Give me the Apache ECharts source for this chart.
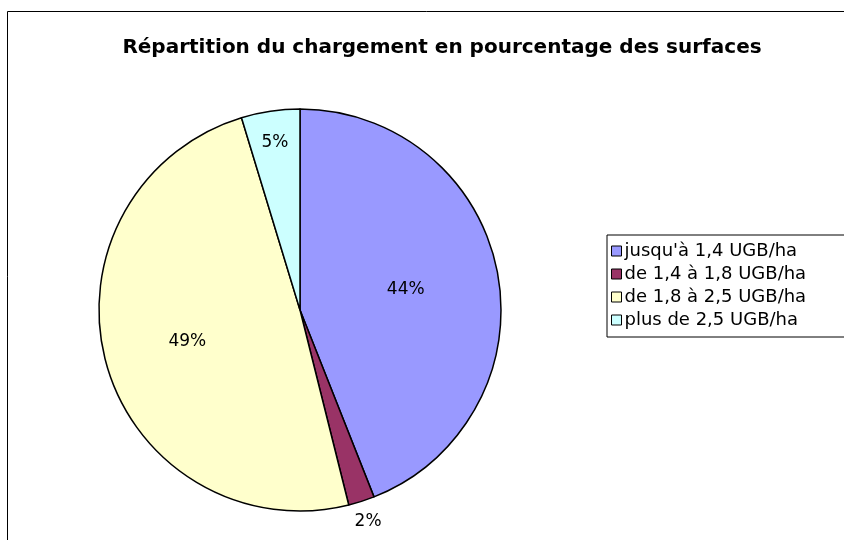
<!DOCTYPE html>
<html>
<head>
<meta charset="utf-8">
<script src="https://cdn.jsdelivr.net/npm/echarts@6/dist/echarts.min.js"></script>
<style>
  html, body { margin: 0; padding: 0; background: #fff; }
  #main { width: 844px; height: 540px; }
</style>
</head>
<body>
<div id="main"></div>
<script>
var chartDom = document.getElementById("main");
var myChart = echarts.init(chartDom, null, { renderer: 'canvas' });

// données
var categories = ["jusqu'à 1,4 UGB/ha", "de 1,4 à 1,8 UGB/ha", "de 1,8 à 2,5 UGB/ha", "plus de 2,5 UGB/ha"];
var shares = [44.0, 2.1, 49.2, 4.7];
var colors = ['#9999FF', '#993366', '#FFFFCC', '#CCFFFF'];
// position radiale des étiquettes (rapport à la position "inside")
var labelRadius = [1.04, 2.15, 1.13, 1.64];

var cx = 300, cy = 310;
var fontFam = 'DejaVu Sans, Arial, sans-serif';

var pieData = categories.map(function (name, i) {
    return { name: name, value: shares[i], itemStyle: { color: colors[i] } };
});

var option = {
    animation: false,
    title: {
        text: 'Répartition du chargement en pourcentage des surfaces',
        left: 437,
        top: 33,
        textAlign: 'center',
        textStyle: {
            fontFamily: fontFam,
            fontSize: 20,
            fontWeight: 'bold',
            color: '#000'
        }
    },
    graphic: [{
        type: 'rect',
        shape: { x: 7.5, y: 11.5, width: 900, height: 600 },
        style: { fill: 'none', stroke: '#000', lineWidth: 1 },
        silent: true
    }],
    legend: {
        orient: 'vertical',
        left: 607,
        top: 235,
        padding: [7, 80, 8, 4],
        borderColor: '#000',
        borderWidth: 1,
        itemWidth: 10,
        itemHeight: 10,
        itemGap: 5,
        icon: 'rect',
        itemStyle: { borderColor: '#000', borderWidth: 1 },
        textStyle: {
            fontFamily: fontFam,
            fontSize: 18,
            lineHeight: 18,
            color: '#000',
            padding: [0, 0, 0, -2]
        },
        data: categories
    },
    series: [{
        type: 'pie',
        center: [cx, cy],
        radius: 201,
        startAngle: 90,
        clockwise: true,
        data: pieData,
        itemStyle: { borderColor: '#000', borderWidth: 1.5 },
        label: {
            show: true,
            position: 'inside',
            formatter: function (p) { return Math.round(p.value) + '%'; },
            fontFamily: fontFam,
            fontSize: 17,
            color: '#000'
        },
        labelLine: { show: false },
        emphasis: { disabled: true },
        labelLayout: function (params) {
            var r = params.labelRect;
            var lx = r.x + r.width / 2, ly = r.y + r.height / 2;
            var f = labelRadius[params.dataIndex] - 1;
            return { dx: (lx - cx) * f, dy: (ly - cy) * f };
        }
    }]
};

myChart.setOption(option);
</script>
</body>
</html>
